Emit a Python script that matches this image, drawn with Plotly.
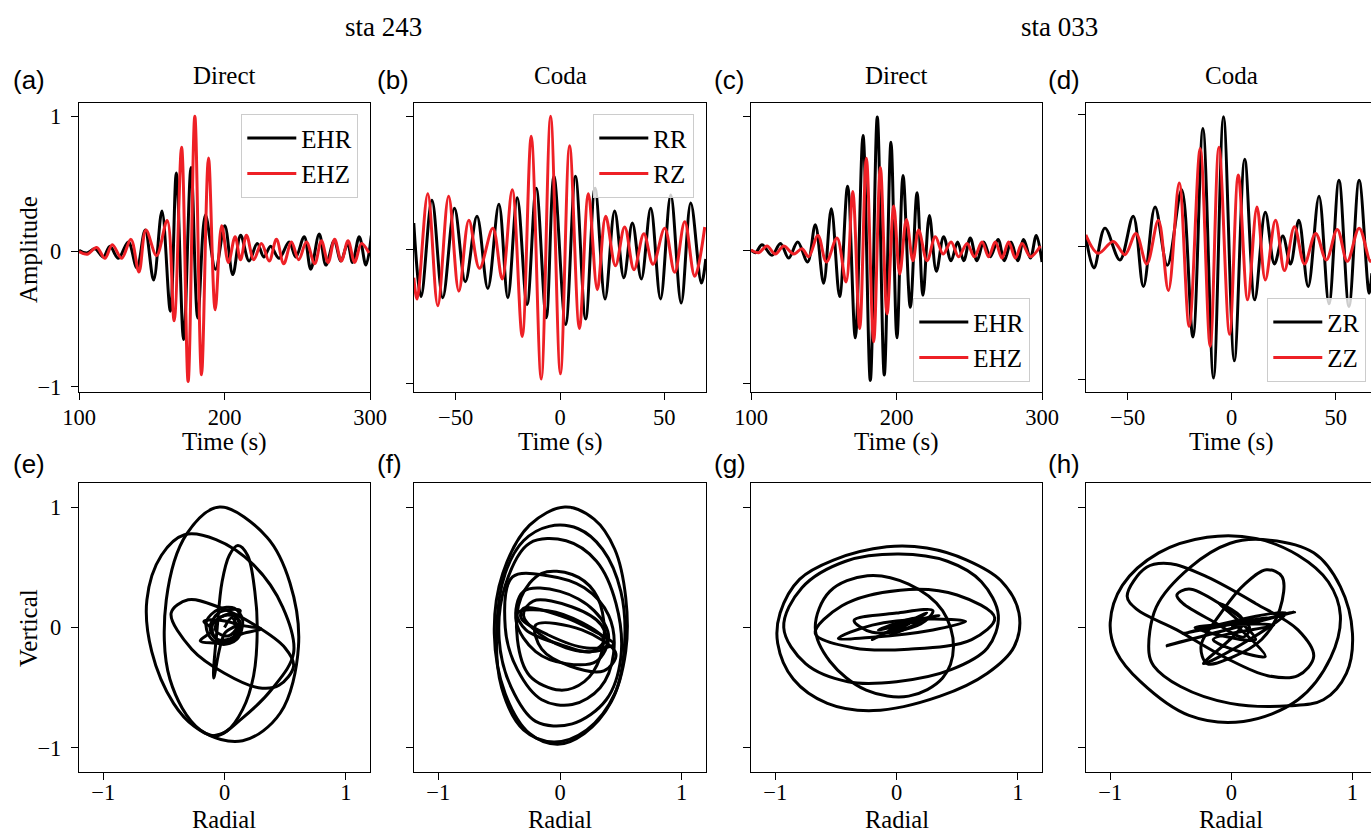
import plotly.graph_objects as go

W, H = 1371, 834
RED = '#EE2026'
SERIF = 'Liberation Serif, Times New Roman, serif'
SANS = 'Liberation Sans, Arial, Helvetica, sans-serif'

# ---------------- top row: waveforms (extrema) ----------------
# (a) sta 243, direct
a_t_ehr = [100.0, 105.3, 111.0, 116.7, 121.3, 127.0, 133.9, 139.8, 145.5, 151.3, 157.0, 162.8, 166.9, 171.9,
           177.0, 181.6, 186.9, 193.8, 200.2, 205.7, 211.1, 216.9, 222.5, 227.1, 231.7, 237.5, 244.4, 249.0,
           254.8, 259.3, 265.1, 269.7, 275.4, 280.0, 284.6, 288.0, 292.6, 297.2, 300.9]
a_ehr = [0.01, -0.01, 0.02, -0.04, 0.04, -0.05, 0.07, -0.12, 0.16, -0.21, 0.30, -0.44, 0.58, -0.65,
         0.62, -0.49, 0.27, -0.13, 0.19, -0.17, 0.12, -0.07, 0.06, -0.04, 0.04, -0.05, 0.07, -0.04,
         0.11, -0.13, 0.13, -0.10, 0.08, -0.07, 0.06, -0.08, 0.11, -0.10, 0.12]
a_t_ehz = [100.0, 105.7, 112.1, 117.8, 122.9, 129.3, 135.7, 141.2, 146.0, 153.3, 160.6, 165.4, 170.5, 175.0,
           179.6, 184.2, 189.0, 193.6, 198.1, 202.7, 207.3, 211.0, 215.1, 220.1, 225.4, 230.7, 235.7, 240.7,
           246.0, 251.0, 256.3, 262.0, 266.6, 271.2, 275.7, 280.3, 284.9, 289.5, 294.1, 299.3]
a_ehz = [0.0, -0.02, 0.03, -0.05, 0.05, -0.05, 0.09, -0.15, 0.16, -0.03, 0.23, -0.51, 0.77, -0.96,
         1.0, -0.91, 0.69, -0.43, 0.19, -0.08, 0.11, -0.06, 0.12, -0.06, 0.06, -0.07, 0.09, -0.09,
         0.07, -0.06, 0.07, -0.09, 0.08, -0.08, 0.09, -0.07, 0.08, -0.08, 0.06, -0.01]

# (b) sta 243, coda
b_t_rr = [-70.1, -66.6, -61.4, -56.2, -50.6, -45.4, -39.8, -34.6, -29.3, -25.0, -20.5, -15.8, -11.4, -6.6,
          -2.9, 2.7, 7.4, 12.3, 16.8, 21.6, 26.2, 30.6, 34.7, 39.0, 43.5, 48.2, 53.1, 58.1, 62.7, 67.8, 69.9]
b_rr = [0.20, -0.35, 0.37, -0.36, 0.31, -0.24, 0.25, -0.29, 0.34, -0.36, 0.39, -0.41, 0.46, -0.51,
        0.55, -0.56, 0.55, -0.52, 0.46, -0.37, 0.29, -0.21, 0.20, -0.22, 0.31, -0.37, 0.41, -0.40, 0.35, -0.25, -0.07]
b_t_rz = [-70.1, -68.5, -63.4, -58.6, -53.4, -48.5, -43.7, -38.6, -32.2, -27.7, -22.9, -18.1, -13.8, -9.0,
          -4.5, 0.2, 4.6, 9.3, 13.6, 17.9, 21.9, 26.6, 31.0, 35.5, 40.2, 44.6, 50.2, 55.0, 59.8, 64.6, 69.4]
b_rz = [-0.21, -0.37, 0.42, -0.42, 0.40, -0.31, 0.22, -0.14, 0.16, -0.22, 0.45, -0.65, 0.85, -0.97,
        1.0, -0.93, 0.78, -0.59, 0.42, -0.30, 0.25, -0.12, 0.17, -0.15, 0.12, -0.11, 0.16, -0.17, 0.21, -0.20, 0.17]

# (c) sta 033, direct
c_t_ehr = [100.0, 103.0, 107.6, 114.4, 120.2, 125.9, 132.1, 138.9, 144.2, 149.9, 155.2, 160.9, 166.4, 171.7,
           177.0, 182.0, 186.8, 191.6, 196.2, 200.3, 204.5, 209.5, 214.1, 218.2, 222.6, 227.4, 232.4, 237.5,
           242.0, 246.2, 250.7, 255.3, 259.9, 264.5, 269.8, 274.1, 278.7, 283.3, 287.4, 292.0, 296.1, 300.0]
c_ehr = [0.0, -0.02, 0.04, -0.04, 0.05, -0.06, 0.06, -0.09, 0.19, -0.25, 0.31, -0.35, 0.48, -0.66,
         0.86, -0.98, 1.0, -0.94, 0.81, -0.66, 0.56, -0.43, 0.43, -0.34, 0.26, -0.16, 0.10, -0.08,
         0.06, -0.08, 0.09, -0.08, 0.06, -0.05, 0.08, -0.08, 0.06, -0.08, 0.08, -0.06, 0.11, -0.09]
c_t_ehz = [100.0, 105.3, 111.0, 116.7, 122.5, 129.3, 135.1, 139.6, 146.0, 151.8, 159.1, 165.3, 169.9, 174.7,
           179.3, 184.3, 188.9, 193.5, 198.1, 202.2, 206.8, 211.3, 215.2, 221.0, 226.7, 232.0, 237.5, 242.7,
           248.5, 253.5, 258.8, 263.3, 267.9, 272.5, 277.1, 281.7, 286.3, 292.0, 298.9]
c_ehz = [0.0, -0.02, 0.03, -0.03, 0.03, -0.03, 0.01, -0.05, 0.11, -0.09, 0.09, -0.24, 0.44, -0.59,
         0.69, -0.69, 0.62, -0.48, 0.33, -0.18, 0.23, -0.08, 0.15, -0.08, 0.10, -0.03, 0.06, -0.05,
         0.05, -0.05, 0.06, -0.05, 0.06, -0.06, 0.06, -0.06, 0.05, -0.05, 0.03]

# (d) sta 033, coda
d_t_zr = [-70.1, -66.2, -60.9, -53.7, -47.3, -42.4, -36.8, -30.9, -24.0, -18.6, -13.8, -8.7, -3.9, 1.3,
          6.3, 11.1, 16.2, 20.6, 24.6, 28.3, 32.3, 36.8, 42.0, 46.8, 51.6, 56.4, 61.3, 66.1, 67.4]
d_zr = [0.08, -0.16, 0.14, -0.10, 0.23, -0.30, 0.30, -0.14, 0.43, -0.68, 0.89, -0.99, 0.98, -0.86,
        0.66, -0.40, 0.26, -0.13, 0.08, -0.13, 0.20, -0.30, 0.38, -0.43, 0.50, -0.45, 0.50, -0.35, -0.20]
d_t_zz = [-70.1, -64.1, -56.9, -51.3, -46.0, -40.8, -35.2, -30.4, -25.2, -20.4, -15.1, -10.3, -6.1, -1.0,
          3.2, 7.7, 12.2, 16.2, 21.1, 25.4, 30.2, 35.0, 40.4, 45.5, 50.8, 55.6, 61.3, 66.6, 67.4]
d_zz = [0.09, -0.05, 0.04, -0.06, 0.10, -0.13, 0.20, -0.33, 0.48, -0.60, 0.74, -0.75, 0.75, -0.66,
        0.54, -0.40, 0.30, -0.25, 0.20, -0.18, 0.15, -0.13, 0.10, -0.10, 0.13, -0.11, 0.14, -0.11, -0.10]

# ---------------- bottom row: particle motion (points read along the loops) ----------------
e_loops = [
    [(-0.04, 1.00), (0.35, 0.75), (0.54, 0.37), (0.61, -0.16), (0.46, -0.71), (0.15, -0.94), (-0.20, -0.85),
     (-0.45, -0.43), (-0.48, 0.23), (-0.31, 0.78)],
    [(-0.33, 0.77), (-0.07, 0.73), (0.24, 0.52), (0.48, 0.17), (0.57, -0.21), (0.40, -0.50), (0.15, -0.75),
     (-0.07, -0.90), (-0.25, -0.82), (-0.42, -0.63), (-0.60, -0.20), (-0.64, 0.23), (-0.52, 0.60)],
    [(-0.44, 0.12), (-0.30, 0.23), (-0.05, 0.17), (0.25, 0.02), (0.50, -0.17), (0.57, -0.32), (0.45, -0.48),
     (0.28, -0.50), (0.0, -0.38), (-0.27, -0.18)],
    [(-0.15, 0.05), (-0.05, 0.15), (0.08, 0.16), (0.15, 0.06), (0.10, -0.10), (-0.02, -0.14), (-0.12, -0.08)],
    [(-0.10, 0.02), (0.0, 0.10), (0.10, 0.08), (0.12, -0.04), (0.04, -0.12), (-0.08, -0.08)],
]
e_paths = [
    [(0.0, 0.0), (0.06, 0.08), (0.10, 0.0), (0.03, -0.07), (-0.07, -0.03), (-0.05, 0.07), (0.06, 0.11),
     (0.13, 0.04), (0.07, -0.08), (-0.06, -0.10), (-0.12, 0.0), (-0.05, 0.12), (0.05, 0.15), (0.13, 0.14),
     (0.08, 0.04), (0.30, -0.01), (0.15, -0.05), (0.0, -0.12), (-0.20, -0.11), (-0.10, -0.02), (-0.17, 0.05),
     (-0.04, 0.06), (0.09, 0.02), (0.0, -0.05), (-0.09, -0.42), (-0.06, 0.0), (-0.02, 0.38), (0.04, 0.60),
     (0.11, 0.68), (0.19, 0.60), (0.25, 0.30), (0.27, 0.0), (0.24, -0.40), (0.15, -0.68), (0.02, -0.86),
     (-0.10, -0.90)],
]
f_loops = [
    [(0.04, 1.0), (0.28, 0.90), (0.45, 0.65), (0.54, 0.25), (0.54, -0.20), (0.42, -0.62), (0.20, -0.88),
     (-0.02, -0.97), (-0.25, -0.88), (-0.45, -0.55), (-0.54, -0.05), (-0.47, 0.45), (-0.25, 0.85)],
    [(-0.09, 0.84), (0.15, 0.82), (0.35, 0.65), (0.50, 0.30), (0.53, -0.15), (0.45, -0.55), (0.22, -0.85),
     (-0.05, -0.95), (-0.30, -0.85), (-0.48, -0.50), (-0.52, 0.0), (-0.45, 0.45), (-0.30, 0.72)],
    [(-0.25, 0.70), (0.05, 0.72), (0.30, 0.55), (0.46, 0.20), (0.50, -0.25), (0.38, -0.60), (0.10, -0.80),
     (-0.20, -0.78), (-0.40, -0.50), (-0.50, -0.10), (-0.45, 0.35)],
    [(-0.39, 0.42), (-0.10, 0.43), (0.20, 0.33), (0.40, 0.10), (0.44, -0.22), (0.33, -0.50), (0.10, -0.64),
     (-0.15, -0.60), (-0.35, -0.35), (-0.45, 0.0)],
    [(-0.15, 0.45), (0.10, 0.44), (0.28, 0.30), (0.36, 0.05), (0.33, -0.25), (0.20, -0.45), (0.0, -0.52),
     (-0.25, -0.40), (-0.35, -0.10), (-0.32, 0.25)],
    [(-0.30, 0.30), (0.0, 0.30), (0.28, 0.14), (0.40, -0.08), (0.30, -0.28), (0.05, -0.30), (-0.20, -0.20),
     (-0.36, 0.05)],
    [(-0.35, 0.12), (-0.10, 0.14), (0.18, 0.04), (0.36, -0.10), (0.26, -0.20), (0.0, -0.14), (-0.28, -0.02)],
    [(-0.30, 0.16), (0.0, 0.10), (0.28, -0.03), (0.44, -0.14), (0.22, -0.17), (-0.10, -0.06), (-0.32, 0.08)],
    [(-0.22, 0.22), (0.10, 0.17), (0.34, 0.02), (0.38, -0.16), (0.20, -0.20), (-0.10, -0.10), (-0.30, 0.10)],
    [(-0.20, 0.02), (0.18, -0.02), (0.46, -0.22), (0.36, -0.36), (0.08, -0.32), (-0.15, -0.18)],
]
f_paths = []
g_loops = [
    [(-0.96, 0.12), (-0.80, 0.40), (-0.52, 0.56), (-0.08, 0.67), (0.25, 0.66), (0.58, 0.56), (0.86, 0.39),
     (1.01, 0.12), (0.97, -0.16), (0.75, -0.38), (0.36, -0.57), (-0.19, -0.69), (-0.57, -0.63), (-0.85, -0.43),
     (-0.98, -0.13)],
    [(-0.93, 0.0), (-0.78, 0.33), (-0.42, 0.55), (0.02, 0.61), (0.42, 0.55), (0.70, 0.38), (0.84, 0.10),
     (0.75, -0.17), (0.45, -0.35), (0.0, -0.45), (-0.40, -0.45), (-0.75, -0.30)],
    [(-0.67, 0.0), (-0.55, 0.30), (-0.24, 0.43), (0.10, 0.36), (0.38, 0.14), (0.47, -0.16), (0.38, -0.42),
     (0.10, -0.57), (-0.25, -0.52), (-0.55, -0.28)],
    [(-0.67, -0.05), (-0.45, 0.18), (0.03, 0.31), (0.50, 0.27), (0.81, 0.08), (0.62, -0.10), (0.10, -0.18),
     (-0.35, -0.17)],
    [(-0.48, -0.09), (-0.20, 0.02), (0.25, 0.07), (0.57, 0.05), (0.30, -0.02), (-0.20, -0.08)],
    [(-0.35, 0.06), (0.0, 0.12), (0.30, 0.14), (0.20, 0.03), (-0.20, -0.04)],
]
g_paths = [
    [(0.0, 0.0), (0.10, 0.03), (-0.10, -0.05), (0.15, 0.08), (-0.15, -0.02), (0.20, 0.05), (-0.05, -0.06),
     (0.25, 0.12), (-0.20, -0.10), (0.05, 0.02), (0.35, 0.10), (-0.10, 0.0)],
]
h_loops = [
    [(-1.0, 0.04), (-0.90, 0.35), (-0.60, 0.62), (-0.20, 0.75), (0.20, 0.74), (0.55, 0.60), (0.80, 0.38),
     (0.90, 0.10), (0.82, -0.25), (0.55, -0.60), (0.10, -0.78), (-0.35, -0.73), (-0.75, -0.45), (-0.95, -0.20)],
    [(-0.68, -0.21), (-0.62, 0.17), (-0.34, 0.50), (-0.01, 0.70), (0.26, 0.73), (0.68, 0.62), (0.90, 0.34),
     (1.0, -0.05), (0.95, -0.38), (0.76, -0.60), (0.48, -0.65), (-0.01, -0.63), (-0.42, -0.49), (-0.64, -0.32)],
    [(-0.86, 0.26), (-0.70, 0.50), (-0.50, 0.53), (-0.20, 0.42), (0.20, 0.20), (0.55, -0.02), (0.68, -0.24),
     (0.55, -0.40), (0.30, -0.40), (-0.05, -0.25), (-0.45, -0.02), (-0.78, 0.15)],
    [(0.29, 0.48), (0.42, 0.42), (0.40, 0.15), (0.25, -0.10), (0.0, -0.25), (-0.20, -0.30), (-0.25, -0.15),
     (-0.10, 0.10), (0.10, 0.35)],
    [(-0.45, 0.27), (-0.35, 0.32), (-0.10, 0.20), (0.15, 0.0), (0.10, -0.08), (-0.15, 0.05), (-0.40, 0.20)],
]
h_paths = [
    [(0.0, 0.0), (0.52, 0.13), (-0.53, -0.15), (0.30, 0.08), (-0.40, -0.05), (0.45, 0.12), (-0.23, -0.30),
     (0.10, 0.05), (-0.10, 0.20), (0.20, -0.10), (-0.30, 0.0), (0.35, 0.02), (-0.15, -0.10), (0.28, -0.24),
     (0.0, 0.05)],
]

# ---------------- layout geometry (pixels) ----------------
col_px = [(79, 370), (414, 706), (751, 1042), (1086, 1376)]
top_px = (103, 392)
bot_px = (483, 772)


def xdom(c):
    a, b = col_px[c]
    return [a / W, min(b / W, 1.0)]


def ydom(r):
    a, b = r
    return [1 - b / H, 1 - a / H]


tickfont = dict(family=SERIF, size=22.5, color='black')
labfont = dict(family=SERIF, size=25, color='black')

fig = go.Figure()


def wave(t, v, name, color, k, leg):
    fig.add_trace(go.Scatter(x=t, y=v, mode='lines', name=name, legend=leg,
                             line=dict(color=color, width=3, shape='spline', smoothing=1.0),
                             xaxis='x' + ('' if k == 1 else str(k)), yaxis='y' + ('' if k == 1 else str(k))))


wave(a_t_ehr, a_ehr, 'EHR', 'black', 1, 'legend')
wave(a_t_ehz, a_ehz, 'EHZ', RED, 1, 'legend')
wave(b_t_rr, b_rr, 'RR', 'black', 2, 'legend2')
wave(b_t_rz, b_rz, 'RZ', RED, 2, 'legend2')
wave(c_t_ehr, c_ehr, 'EHR', 'black', 3, 'legend3')
wave(c_t_ehz, c_ehz, 'EHZ', RED, 3, 'legend3')
wave(d_t_zr, d_zr, 'ZR', 'black', 4, 'legend4')
wave(d_t_zz, d_zz, 'ZZ', RED, 4, 'legend4')


def motion(loops, paths, k):
    xs, ys = [], []
    for lp in loops:
        pts = lp + [lp[0]]
        xs += [p[0] for p in pts] + [None]
        ys += [p[1] for p in pts] + [None]
    for pa in paths:
        xs += [p[0] for p in pa] + [None]
        ys += [p[1] for p in pa] + [None]
    fig.add_trace(go.Scatter(x=xs, y=ys, mode='lines', showlegend=False,
                             line=dict(color='black', width=3, shape='spline', smoothing=1.0),
                             xaxis='x' + str(k), yaxis='y' + str(k)))


motion(e_loops, e_paths, 5)
motion(f_loops, f_paths, 6)
motion(g_loops, g_paths, 7)
motion(h_loops, h_paths, 8)

layout = dict(width=W, height=H, margin=dict(l=0, r=0, t=0, b=0, autoexpand=False),
              paper_bgcolor='white', plot_bgcolor='white', showlegend=True)

top_xr = [[100, 300], [-70, 70], [100, 300], [-70, 67.0]]
top_xt = [[100, 200, 300], [-50, 0, 50], [100, 200, 300], [-50, 0, 50]]
top_yr = [[-1.037, 1.097], [-1.067, 1.10], [-1.067, 1.105], [-1.095, 1.083]]
bot_xr = [[-1.2, 1.2], [-1.2, 1.2], [-1.2, 1.2], [-1.2, 1.153]]

for i in range(8):
    k = i + 1
    c = i % 4
    top = i < 4
    xn = 'xaxis' + ('' if k == 1 else str(k))
    yn = 'yaxis' + ('' if k == 1 else str(k))
    xa = 'x' + ('' if k == 1 else str(k))
    ya = 'y' + ('' if k == 1 else str(k))
    common = dict(ticks='outside', ticklen=7, tickwidth=1.3, tickcolor='black', showline=True,
                  linecolor='black', linewidth=1.3, showgrid=False, zeroline=False, tickfont=tickfont,
                  automargin=False)
    layout[xn] = dict(domain=xdom(c), anchor=ya, mirror=True,
                      range=top_xr[c] if top else bot_xr[c],
                      tickvals=top_xt[c] if top else [-1, 0, 1],
                      ticklabelstandoff=-2 if top else -7,
                      **common)
    layout[yn] = dict(domain=ydom(top_px if top else bot_px), anchor=xa, mirror=(c != 3),
                      range=top_yr[c] if top else [-1.2, 1.2], tickvals=[-1, 0, 1],
                      showticklabels=(c == 0), ticklabelstandoff=5, **common)

legbase = dict(font=dict(family=SERIF, size=25, color='black'), bgcolor='rgba(255,255,255,0.8)',
               bordercolor='#cccccc', borderwidth=1.3, itemwidth=49, tracegroupgap=0)
layout['legend'] = dict(x=358 / W, y=1 - 114 / H, xanchor='right', yanchor='top', **legbase)
layout['legend2'] = dict(x=694 / W, y=1 - 114 / H, xanchor='right', yanchor='top', **legbase)
layout['legend3'] = dict(x=1030 / W, y=1 - 382 / H, xanchor='right', yanchor='bottom', **legbase)
layout['legend4'] = dict(x=1366 / W, y=1 - 382 / H, xanchor='right', yanchor='bottom', **legbase)


def note(text, xp, yp, font, xanchor='center', yanchor='middle', angle=0):
    return dict(text=text, x=xp / W, y=1 - yp / H, xref='paper', yref='paper', showarrow=False,
                xanchor=xanchor, yanchor=yanchor, textangle=angle, font=font, borderpad=0)


ann = []
ann.append(note('sta 243', 383, 27, dict(family=SERIF, size=27, color='black')))
ann.append(note('sta 033', 1059, 27, dict(family=SERIF, size=27, color='black')))
for c, ttl in enumerate(['Direct', 'Coda', 'Direct', 'Coda']):
    a, b = col_px[c]
    ann.append(note(ttl, (a + b) / 2, 75, labfont))
    ctr = (a + b) / 2
    ann.append(note('Time (s)', ctr, 442, labfont))
    ann.append(note('Radial', ctr, 834, dict(family=SERIF, size=24.5, color='black'), yanchor='bottom'))
ann.append(note('Amplitude', 28, 250, labfont, angle=-90))
ann.append(note('Vertical', 28, 628, labfont, angle=-90))
letters_top = ['(a)', '(b)', '(c)', '(d)']
letters_bot = ['(e)', '(f)', '(g)', '(h)']
lx = [12, 376, 713, 1047]
for c in range(4):
    ann.append(note(letters_top[c], lx[c], 80, dict(family=SANS, size=26, color='black'), xanchor='left'))
    ann.append(note(letters_bot[c], lx[c], 464, dict(family=SANS, size=26, color='black'), xanchor='left'))
layout['annotations'] = ann

fig.update_layout(**layout)
fig.write_html('out.html')
